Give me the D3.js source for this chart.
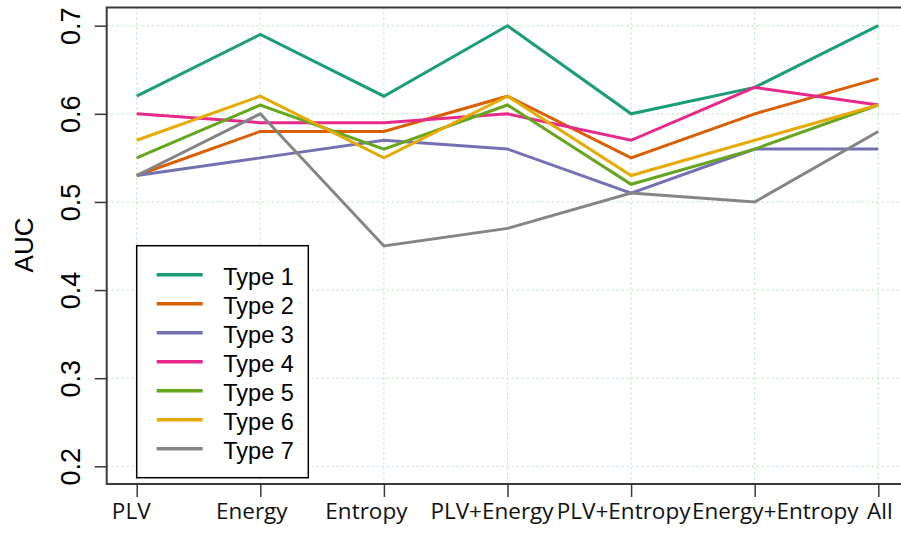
<!DOCTYPE html>
<html>
<head>
<meta charset="utf-8">
<script src="https://cdn.jsdelivr.net/npm/d3@7"></script>
<style>
  body { margin: 0; background: #fff; }
  svg { display: block; }
</style>
</head>
<body>
<div id="chart"></div>
<script>
// feature sets on the x axis
const featureSets = ["PLV", "Energy", "Entropy", "PLV+Energy", "PLV+Entropy", "Energy+Entropy", "All"];
const yTicks = [0.2, 0.3, 0.4, 0.5, 0.6, 0.7];
const seriesNames = ["Type 1", "Type 2", "Type 3", "Type 4", "Type 5", "Type 6", "Type 7"];

// AUC per type
const type1 = [0.62, 0.69, 0.62, 0.70, 0.60, 0.63, 0.70];
const type2 = [0.53, 0.58, 0.58, 0.62, 0.55, 0.60, 0.64];
const type3 = [0.53, 0.55, 0.57, 0.56, 0.51, 0.56, 0.56];
const type4 = [0.60, 0.59, 0.59, 0.60, 0.57, 0.63, 0.61];
const type5 = [0.55, 0.61, 0.56, 0.61, 0.52, 0.56, 0.61];
const type6 = [0.57, 0.62, 0.55, 0.62, 0.53, 0.57, 0.61];
const type7 = [0.53, 0.60, 0.45, 0.47, 0.51, 0.50, 0.58];

const seriesValues = [type1, type2, type3, type4, type5, type6, type7];
const colors = ["#1b9e77", "#d95f02", "#7570b3", "#e7298a", "#66a61e", "#e6ab02", "#858585"];

// layout
const W = 901, H = 533;
const plot = { left: 106.7, top: 7.5, bottom: 484 };
// small nudges so the long tick labels sit like the original
const labelNudge = [-6, -9, -18, -16, -8, 20, 1];

const x = d3.scalePoint().domain(featureSets).range([136.7, 878.3]);
const y = d3.scaleLinear().domain([0.2, 0.7]).range([466.3, 25.7]);

const svg = d3.select("#chart").append("svg")
  .attr("width", W)
  .attr("height", H);

// grid
const grid = svg.append("g")
  .attr("stroke", "#b8e0b8")
  .attr("stroke-width", 1)
  .attr("stroke-dasharray", "2,3");

grid.selectAll(".vgrid")
  .data(featureSets)
  .enter().append("line")
  .attr("class", "vgrid")
  .attr("x1", d => x(d)).attr("x2", d => x(d))
  .attr("y1", plot.top).attr("y2", plot.bottom);

grid.selectAll(".hgrid")
  .data(yTicks)
  .enter().append("line")
  .attr("class", "hgrid")
  .attr("x1", plot.left).attr("x2", W)
  .attr("y1", d => y(d)).attr("y2", d => y(d));

// lines
const line = d3.line()
  .x((d, i) => x(featureSets[i]))
  .y(d => y(d));

svg.append("g")
  .selectAll("path")
  .data(seriesValues)
  .enter().append("path")
  .attr("d", line)
  .attr("fill", "none")
  .attr("stroke", (d, i) => colors[i])
  .attr("stroke-width", 3)
  .attr("stroke-linejoin", "miter");

// plot box (right edge runs off the page)
svg.append("rect")
  .attr("x", plot.left)
  .attr("y", plot.top)
  .attr("width", W + 20 - plot.left)
  .attr("height", plot.bottom - plot.top)
  .attr("fill", "none")
  .attr("stroke", "#3a3a3a")
  .attr("stroke-width", 2);

// y axis
const yAxis = svg.append("g")
  .attr("transform", `translate(${plot.left},0)`)
  .call(d3.axisLeft(y).tickValues(yTicks).tickSize(12).tickFormat(d3.format(".1f")));

yAxis.select(".domain").remove();
yAxis.selectAll(".tick line").attr("stroke", "#3a3a3a").attr("stroke-width", 1.5);
yAxis.selectAll(".tick text")
  .attr("x", null)
  .attr("dy", null)
  .attr("text-anchor", "middle")
  .attr("transform", "translate(-26.5,0) rotate(-90)")
  .style("font-family", "'Liberation Sans', Arial, sans-serif")
  .style("font-size", "27px")
  .attr("fill", "#000");

// x axis
const xAxis = svg.append("g")
  .attr("transform", `translate(0,${plot.bottom})`)
  .call(d3.axisBottom(x).tickSize(13));

xAxis.select(".domain").remove();
xAxis.selectAll(".tick line").attr("stroke", "#3a3a3a").attr("stroke-width", 1.5);
xAxis.selectAll(".tick text")
  .attr("y", 35)
  .attr("dy", null)
  .attr("dx", (d, i) => labelNudge[i])
  .style("font-family", "'Open Sans', sans-serif")
  .style("font-size", "22.5px")
  .attr("fill", "#111");

// y title
svg.append("text")
  .attr("transform", "translate(33,245) rotate(-90)")
  .attr("text-anchor", "middle")
  .style("font-family", "'Liberation Sans', Arial, sans-serif")
  .style("font-size", "26px")
  .text("AUC");

// legend
const legend = svg.append("g")
  .attr("transform", "translate(136.7,245.7)");

legend.append("rect")
  .attr("width", 171.6)
  .attr("height", 232)
  .attr("fill", "#fff")
  .attr("stroke", "#000")
  .attr("stroke-width", 1.5);

const item = legend.selectAll(".legend")
  .data(seriesNames)
  .enter().append("g")
  .attr("class", "legend")
  .attr("transform", (d, i) => `translate(0,${29 + i * 29})`);

item.append("line")
  .attr("x1", 20).attr("x2", 66)
  .attr("stroke", (d, i) => colors[i])
  .attr("stroke-width", 3.5);

item.append("text")
  .attr("x", 86.6)
  .attr("y", 10.3)
  .style("font-family", "'Liberation Sans', Arial, sans-serif")
  .style("font-size", "23.5px")
  .text(d => d);
</script>
</body>
</html>
